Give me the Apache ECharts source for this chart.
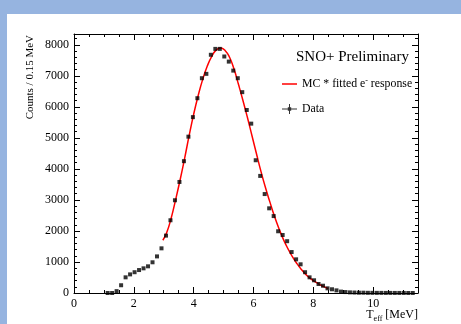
<!DOCTYPE html>
<html><head><meta charset="utf-8">
<script src="https://cdn.jsdelivr.net/npm/echarts@6/dist/echarts.min.js"></script>
<style>html,body{margin:0;padding:0;background:#96b4e0;}#c{width:461px;height:324px;}</style>
</head><body><div id="c"></div>
<script>
// Data histogram (bin centres, 0.15 MeV bins)
const dataE = [1.125,1.275,1.425,1.575,1.725,1.875,2.025,2.175,2.325,2.475,2.625,2.775,2.925,3.075,3.225,3.375,3.525,3.675,3.825,3.975,4.125,4.275,4.425,4.575,4.725,4.875,5.025,5.175,5.325,5.475,5.625,5.775,5.925,6.075,6.225,6.375,6.525,6.675,6.825,6.975,7.125,7.275,7.425,7.575,7.725,7.875,8.025,8.175,8.325,8.475,8.625,8.775,8.925,9.075,9.225,9.375,9.525,9.675,9.825,9.975,10.125,10.275,10.425,10.575,10.725,10.875,11.025,11.175,11.325];
const dataCounts = [0,0,60,250,505,600,670,740,795,860,990,1180,1440,1850,2345,2990,3580,4250,5040,5670,6280,6925,7065,7680,7870,7870,7625,7460,7170,6925,6475,5900,5460,4280,3775,3190,2730,2480,1990,1870,1670,1320,1085,925,670,505,410,290,235,150,120,85,45,30,20,15,10,10,6,5,4,4,3,3,2,2,2,1,1];
// MC * fitted e- response curve
const fitE = [2.97,3.10,3.25,3.40,3.55,3.70,3.85,4.00,4.15,4.30,4.45,4.60,4.75,4.90,5.05,5.20,5.35,5.50,5.65,5.80,5.95,6.10,6.25,6.40,6.55,6.70,6.85,7.00,7.15,7.30,7.45,7.60,7.75,7.90,8.05,8.20,8.35,8.50];
const fitCounts = [1700,1950,2420,3020,3660,4350,5080,5760,6360,6880,7300,7620,7830,7900,7820,7600,7220,6720,6200,5650,5070,4490,3920,3400,2930,2480,2080,1730,1430,1170,950,760,600,470,370,280,205,140];
const xTickLabels = [0,2,4,6,8,10];
const yTickLabels = [0,1000,2000,3000,4000,5000,6000,7000,8000];

const fitName = 'MC * fitted e- response';
const dataName = 'Data';
const font = '"Liberation Serif", "Times New Roman", serif';

function xAx(pos, interval, len, labels, line) {
  return {type:'value', min:0, max:11.5, interval:interval, position:pos,
    axisLine:{show:line, onZero:false, lineStyle:{color:'#000', width:1}},
    axisTick:{show:true, inside:true, length:len, lineStyle:{color:'#000', width:1}},
    splitLine:{show:false},
    axisLabel:{show:labels, color:'#000', fontFamily:font, fontSize:12, margin:5,
      formatter: v => xTickLabels.indexOf(v) >= 0 ? String(v) : ''}};
}
function yAx(pos, interval, len, labels, line) {
  return {type:'value', min:0, max:8350, interval:interval, position:pos,
    axisLine:{show:line, onZero:false, lineStyle:{color:'#000', width:1}},
    axisTick:{show:true, inside:true, length:len, lineStyle:{color:'#000', width:1}},
    splitLine:{show:false},
    axisLabel:{show:labels, color:'#000', fontFamily:font, fontSize:12, margin:5,
      formatter: v => yTickLabels.indexOf(v) >= 0 ? String(v) : ''}};
}

const chart = echarts.init(document.getElementById('c'), null, {renderer:'canvas'});
chart.setOption({
  animation:false,
  backgroundColor:'transparent',
  grid:{left:74, top:34, width:344, height:259, show:false},
  title:{text:'SNO+ Preliminary', right:52, top:50, padding:0,
    textStyle:{fontFamily:font, fontSize:15, fontWeight:'normal', color:'#000'}},
  legend:{orient:'vertical', left:282, top:77, padding:0, itemWidth:15, itemHeight:14, itemGap:13,
    textStyle:{fontFamily:font, fontSize:11.8, color:'#000',
      rich:{sup:{fontFamily:font, fontSize:8, color:'#000', verticalAlign:'top', padding:[0,0,6,0]}}},
    formatter: n => n === fitName ? 'MC * fitted e{sup|-} response' : n,
    data:[
      {name:fitName, icon:'path://M0,0H20V2H0Z'},
      {name:dataName, icon:'path://M0,4.5H15V5.5H0Z M7,0H8V10H7Z M5.8,3.3H9.2V6.7H5.8Z'}
    ]},
  xAxis:[
    xAx('bottom', 2, 6, true, true),
    xAx('top', 2, 6, false, true),
    xAx('bottom', 0.5, 3, false, false),
    xAx('top', 0.5, 3, false, false)
  ],
  yAxis:[
    yAx('left', 1000, 6, true, true),
    yAx('right', 1000, 6, false, true),
    yAx('left', 200, 3, false, false),
    yAx('right', 200, 3, false, false)
  ],
  graphic:[
    {type:'rect', z:-100, silent:true, shape:{x:7, y:14, width:454, height:310}, style:{fill:'#ffffff'}},
    {type:'text', silent:true, x:30, y:35, rotation:Math.PI/2,
      style:{text:'Counts / 0.15 MeV', fontFamily:font, fontSize:11, fill:'#000', align:'right', verticalAlign:'middle'}},
    {type:'text', silent:true, x:418, y:315,
      style:{text:'T{s|eff} [MeV]', fontFamily:font, fontSize:12, fill:'#000', align:'right', verticalAlign:'middle',
        rich:{s:{fontFamily:font, fontSize:8, fill:'#000', padding:[7,0,0,0]}}}}
  ],
  series:[
    {name:fitName, type:'line', smooth:true, showSymbol:false, xAxisIndex:0, yAxisIndex:0,
      itemStyle:{color:'#ff0000'}, lineStyle:{color:'#ff0000', width:1.5}, z:2,
      data: fitE.map((e,i)=>[e, fitCounts[i]])},
    {name:dataName, type:'scatter', symbol:'rect', symbolSize:4, xAxisIndex:0, yAxisIndex:0,
      itemStyle:{color:'#000'}, z:3,
      data: dataE.map((e,i)=>[e, dataCounts[i]])}
  ]
});
</script></body></html>
